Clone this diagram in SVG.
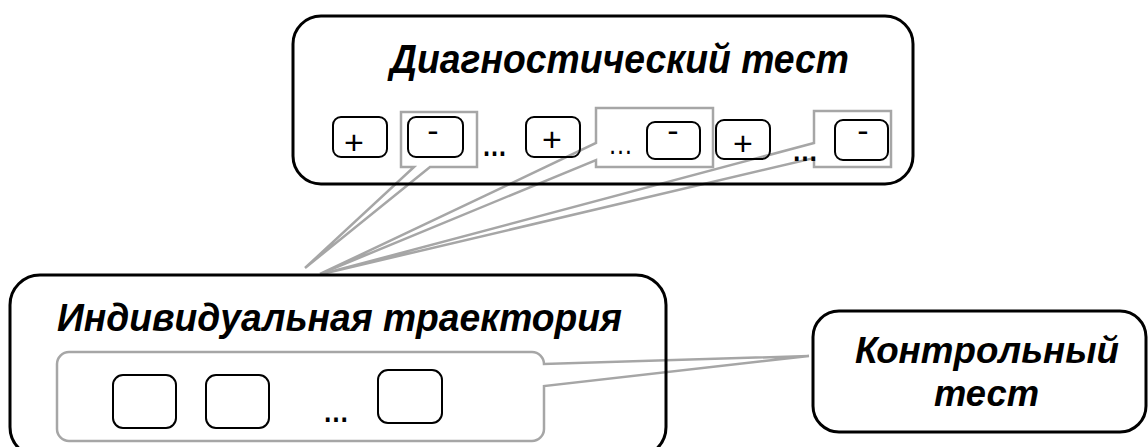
<svg xmlns="http://www.w3.org/2000/svg" width="1148" height="447" viewBox="0 0 1148 447">
<style>
.big{fill:none;stroke:#000;stroke-width:3}
.sm{fill:none;stroke:#000;stroke-width:2}
.gray{fill:none;stroke:#a6a6a6;stroke-width:2.5;stroke-linejoin:miter}
.title{font-family:"Liberation Sans",Arial,sans-serif;font-weight:bold;font-style:italic;fill:#000}
.sign{font-family:"Liberation Sans",Arial,sans-serif;font-size:34px;fill:#000;text-anchor:middle}
.dots{font-family:"Liberation Sans",Arial,sans-serif;font-size:30px;fill:#000}
</style>
<rect x="0" y="0" width="1148" height="447" fill="#fff"/>
<g id="connectors">
  <path class="gray" d="M401,112 H477 V167 H430 L305,268 L414,167 H401 Z"/>
  <path class="gray" d="M596,108 H713 V167 H596 V160 L320,274 L596,143 Z"/>
  <path class="gray" d="M814,111 H891 V167 H814 V158 L322,274 L814,143 Z"/>
  <path class="gray" d="M69,352 H532 A12,12 0 0 1 544,364 L809,356 L544,386 V429 A12,12 0 0 1 532,441 H69 A12,12 0 0 1 57,429 V364 A12,12 0 0 1 69,352 Z"/>
</g>
<g id="diagnostic-test">
  <rect class="big" x="293" y="16" width="620" height="168" rx="28"/>
  <text class="title" x="390" y="73" font-size="40" textLength="459" lengthAdjust="spacingAndGlyphs">Диагностический тест</text>
</g>
<g id="item-plus-1">
  <rect class="sm" x="333" y="117" width="54" height="40" rx="8"/>
  <text class="sign" x="354" y="154">+</text>
</g>
<g id="item-minus-1">
  <rect class="sm" x="408" y="117" width="55" height="40" rx="8"/>
  <text class="sign" x="433" y="142">-</text>
</g>
<g id="dots-1"><text class="dots" font-weight="bold" x="482" y="156" textLength="25" lengthAdjust="spacingAndGlyphs">…</text></g>
<g id="item-plus-2">
  <rect class="sm" x="526" y="117" width="54" height="40" rx="8"/>
  <text class="sign" x="552" y="151">+</text>
</g>
<g id="dots-2"><text class="dots" x="608" y="154" textLength="25" lengthAdjust="spacingAndGlyphs">…</text></g>
<g id="item-minus-2">
  <rect class="sm" x="647" y="122" width="53" height="37" rx="8"/>
  <text class="sign" x="673" y="142">-</text>
</g>
<g id="item-plus-3">
  <rect class="sm" x="716" y="120" width="54" height="39" rx="8"/>
  <text class="sign" x="743" y="155">+</text>
</g>
<g id="dots-3"><text class="dots" font-weight="bold" x="792" y="161" textLength="26" lengthAdjust="spacingAndGlyphs">…</text></g>
<g id="item-minus-3">
  <rect class="sm" x="835" y="120" width="53" height="40" rx="8"/>
  <text class="sign" x="863" y="142">-</text>
</g>
<g id="individual-trajectory">
  <rect class="big" x="10" y="275" width="656" height="182" rx="30"/>
  <text class="title" x="57" y="331" font-size="39" textLength="565" lengthAdjust="spacingAndGlyphs">Индивидуальная траектория</text>
</g>
<g id="step-1"><rect class="sm" x="113" y="375" width="63" height="53" rx="10"/></g>
<g id="step-2"><rect class="sm" x="206" y="375" width="63" height="53" rx="10"/></g>
<g id="dots-4"><text class="dots" font-weight="bold" x="323" y="422" textLength="26" lengthAdjust="spacingAndGlyphs">…</text></g>
<g id="step-3"><rect class="sm" x="378" y="370" width="64" height="53" rx="10"/></g>
<g id="control-test">
  <rect class="big" x="813" y="311" width="333" height="121" rx="26"/>
  <text class="title" x="855" y="363" font-size="36" textLength="264" lengthAdjust="spacingAndGlyphs">Контрольный</text>
  <text class="title" x="934" y="406" font-size="36" textLength="105" lengthAdjust="spacingAndGlyphs">тест</text>
</g>
</svg>
